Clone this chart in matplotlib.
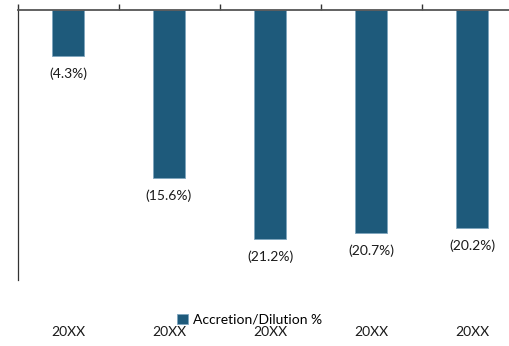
import numpy as np
import matplotlib.pyplot as plt

categories = ["20XX", "20XX", "20XX", "20XX", "20XX"]
accretion = [-4.3, -15.6, -21.2, -20.7, -20.2]
series_name = "Accretion/Dilution %"

bar_color = "#1E5A7B"
plt.rcParams['font.family'] = ['Lato', 'DejaVu Sans']

fig = plt.figure(figsize=(5.10, 3.46), dpi=100)
ax = fig.add_axes([17.5/510, 1-280/346, 505/510, (280-9.5)/346])

x = np.arange(len(categories))
bars = ax.bar(x, accretion, width=0.31, color=bar_color,
              edgecolor="#7FA6BE", linewidth=0.6, label=series_name)

for xi, v in zip(x, accretion):
    ax.annotate("({:.1f}%)".format(abs(v)), (xi, v), xytext=(0, -12.5),
                textcoords="offset points", ha="center", va="center",
                fontsize=10, color="#1a1a1a")

ax.set_xlim(-0.5, len(categories)-0.5)
ax.set_ylim(-25, 0)

for side in ["right", "bottom"]:
    ax.spines[side].set_visible(False)
ax.spines["top"].set_color("#555555")
ax.spines["top"].set_linewidth(1.3)
ax.spines["left"].set_color("#333333")
ax.spines["left"].set_linewidth(0.9)

ax.xaxis.tick_top()
ax.set_xticks(np.arange(len(categories)+1) - 0.5)
ax.set_xticklabels([])
ax.tick_params(axis="x", direction="out", length=4, width=1, color="#333333")
ax.set_yticks([])

for xi, c in zip(x, categories):
    ax.text(xi, -0.193, c, transform=ax.get_xaxis_transform(),
            ha="center", va="center", fontsize=10, color="#1a1a1a")

fig.legend(loc="center", bbox_to_anchor=(250/510, 1-320/346), frameon=False,
           fontsize=10, handlelength=0.75, handleheight=0.75,
           handletextpad=0.4, borderpad=0)

fig.savefig("out.png", dpi=100)
